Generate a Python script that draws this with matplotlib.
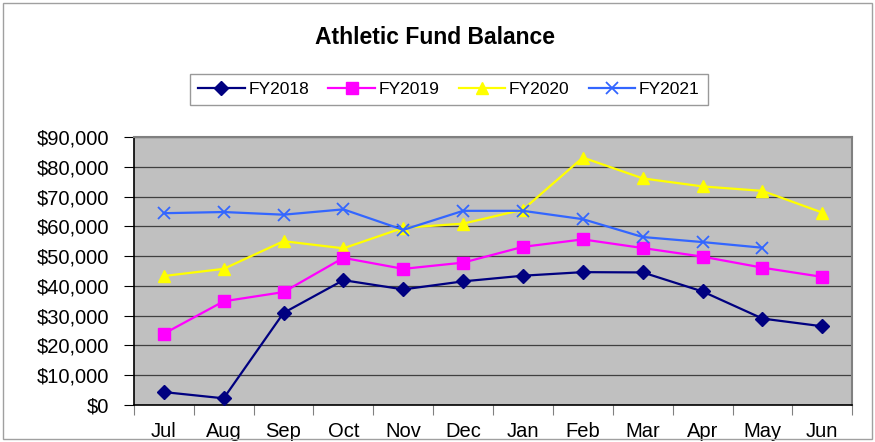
import matplotlib.pyplot as plt
from matplotlib.ticker import FuncFormatter, FixedLocator
import numpy as np

plt.rcParams['font.family'] = ['Liberation Sans', 'DejaVu Sans']

months = ['Jul', 'Aug', 'Sep', 'Oct', 'Nov', 'Dec', 'Jan', 'Feb', 'Mar', 'Apr', 'May', 'Jun']
fy2018 = [4300, 2200, 30900, 41900, 38800, 41500, 43400, 44600, 44500, 38100, 29000, 26400]
fy2019 = [23900, 34800, 37900, 49400, 45700, 47800, 53100, 55600, 52700, 49800, 46100, 43000]
fy2020 = [43300, 45700, 55000, 52600, 59500, 60900, 65600, 83100, 76100, 73400, 71900, 64600]
fy2021 = [64400, 64800, 63900, 65700, 58800, 65200, 65200, 62400, 56400, 54700, 52800]

fig = plt.figure(figsize=(8.75, 4.42), dpi=100)
ax = fig.add_axes([0.153, 0.084, 0.821, 0.606])
ax.set_facecolor('#C0C0C0')

x = np.arange(len(months))
ax.plot(x, fy2018, color='#000080', marker='D', markersize=7.5, lw=1.6, label='FY2018', zorder=5)
ax.plot(x, fy2019, color='#FF00FF', marker='s', markersize=8, lw=1.6, label='FY2019', zorder=4)
ax.plot(x, fy2020, color='#FFFF00', marker='^', markersize=9, lw=1.6, label='FY2020', zorder=3)
ax.plot(x[:len(fy2021)], fy2021, color='#3366FF', marker='x', markersize=8, mew=1.3, lw=1.6,
        label='FY2021', zorder=6)

ax.set_xlim(-0.5, len(months) - 0.5)
ax.set_ylim(0, 90000)
ax.set_yticks(range(0, 90001, 10000))
ax.yaxis.set_major_formatter(FuncFormatter(lambda v, p: '${:,.0f}'.format(v)))
ax.set_xticks(x)
ax.set_xticklabels(months)
ax.xaxis.set_minor_locator(FixedLocator(np.arange(-0.5, len(months), 1)))
ax.tick_params(axis='x', which='major', length=0, pad=12, labelsize=14.5)
ax.tick_params(axis='x', which='minor', length=7, width=0.8, color='#808080')
ax.tick_params(axis='y', length=7, width=0.8, labelsize=14.5, pad=11)
ax.grid(axis='y', color='#404040', lw=0.9)
ax.set_axisbelow(True)

for side in ['top', 'right']:
    ax.spines[side].set_color('#808080')
    ax.spines[side].set_linewidth(1.5)
for side in ['left', 'bottom']:
    ax.spines[side].set_color('black')
    ax.spines[side].set_linewidth(1.2)

fig.text(0.497, 0.915, 'Athletic Fund Balance', ha='center', va='center',
         fontsize=16.5, fontweight='bold')

leg = fig.legend(loc='center', bbox_to_anchor=(0.513, 0.797), ncol=4, fontsize=12.5,
                 frameon=True, fancybox=False, edgecolor='#808080', handlelength=2.7,
                 handletextpad=0.2, columnspacing=1.1, borderpad=0.45)
leg.get_frame().set_linewidth(1.0)

fig.patches.append(plt.Rectangle((0.003, 0.007), 0.994, 0.986, transform=fig.transFigure,
                                 fill=False, edgecolor='#A0A0A0', lw=1.0))

fig.savefig('out.png', dpi=100)
